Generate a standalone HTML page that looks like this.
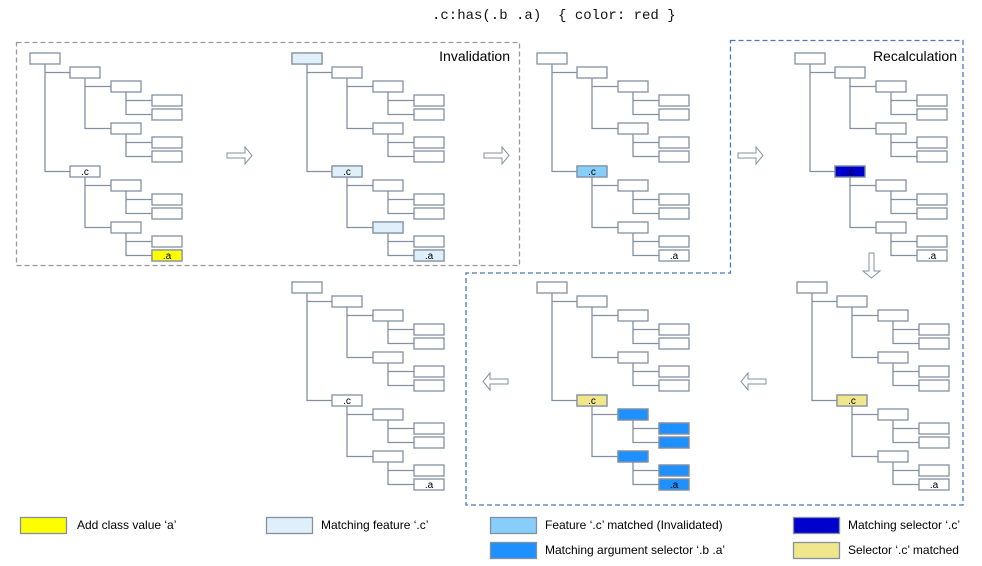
<!DOCTYPE html>
<html><head><meta charset="utf-8"><style>
body{margin:0;background:#fff}
svg{display:block}
text{font-family:"Liberation Sans",sans-serif}
</style></head><body>
<svg width="982" height="566" viewBox="0 0 982 566" xmlns="http://www.w3.org/2000/svg">
<defs>
<g id="lines" stroke="#8490a0" stroke-width="1.3" fill="none">
<path d="M15 11V118.5H40M15 19.5H40"/>
<path d="M55 25V75.5H81M55 33.5H81"/>
<path d="M96 39V61.5H122M96 47.5H122"/>
<path d="M96 81V103.5H122M96 89.5H122"/>
<path d="M55 124V174.5H81M55 132.5H81"/>
<path d="M96 138V160.5H122M96 146.5H122"/>
<path d="M96 180V202.5H122M96 188.5H122"/>
</g>
<g id="boxes" fill="#fff" stroke="#8490a0" stroke-width="1.3">
<rect x="0" y="0" width="30" height="11"/>
<rect x="40" y="14" width="30" height="11"/>
<rect x="81" y="28" width="30" height="11"/>
<rect x="122" y="42" width="30" height="11"/>
<rect x="122" y="56" width="30" height="11"/>
<rect x="81" y="70" width="30" height="11"/>
<rect x="122" y="84" width="30" height="11"/>
<rect x="122" y="98" width="30" height="11"/>
<rect x="40" y="113" width="30" height="11"/>
<rect x="81" y="127" width="30" height="11"/>
<rect x="122" y="141" width="30" height="11"/>
<rect x="122" y="155" width="30" height="11"/>
<rect x="81" y="169" width="30" height="11"/>
<rect x="122" y="183" width="30" height="11"/>
<rect x="122" y="197" width="30" height="11"/>
</g>
<g id="tree"><use href="#lines"/><use href="#boxes"/></g>
<polygon id="arr" points="0,3 18,3 18,-3 25,5.5 18,14 18,8 0,8" fill="#fff" stroke="#8490a0" stroke-width="1"/>
</defs>

<text x="432" y="19" font-size="14" fill="#111" style="font-family:'Liberation Mono',monospace;white-space:pre" xml:space="preserve">.c:has(.b .a)  { color: red }</text>

<rect x="16.5" y="42.5" width="503" height="223" fill="none" stroke="#999" stroke-width="1.3" stroke-dasharray="5,3"/>
<path d="M730.5 40.5H963V505H466V273H730.5Z" fill="none" stroke="#4a78b8" stroke-width="1.3" stroke-dasharray="5,3"/>
<text x="510" y="61" text-anchor="end" font-size="14">Invalidation</text>
<text x="957" y="61" text-anchor="end" font-size="14">Recalculation</text>

<g stroke="#8490a0" stroke-width="1.3" font-size="10" text-anchor="middle">
<g transform="translate(30,53)"><use href="#tree"/>
<rect x="122" y="197" width="30" height="11" fill="#ffff00"/>
<text x="55" y="122" stroke="none">.c</text><text x="137" y="206" stroke="none">.a</text></g>
<g transform="translate(292,53)" fill="#e0f0fb"><use href="#tree"/>
<rect x="0" y="0" width="30" height="11"/><rect x="40" y="113" width="30" height="11"/>
<rect x="81" y="169" width="30" height="11"/><rect x="122" y="197" width="30" height="11"/>
<text x="55" y="122" stroke="none" fill="#000">.c</text><text x="137" y="206" stroke="none" fill="#000">.a</text></g>
<g transform="translate(537,53)"><use href="#tree"/>
<rect x="40" y="113" width="30" height="11" fill="#87cefa"/>
<text x="55" y="122" stroke="none">.c</text><text x="137" y="206" stroke="none">.a</text></g>
<g transform="translate(795,53)"><use href="#tree"/>
<rect x="40" y="113" width="30" height="11" fill="#0000cd"/>
<text x="55" y="122" stroke="none">.c</text><text x="137" y="206" stroke="none">.a</text></g>
<g transform="translate(797,282)"><use href="#tree"/>
<rect x="40" y="113" width="30" height="11" fill="#f0e68c"/>
<text x="55" y="122" stroke="none">.c</text><text x="137" y="206" stroke="none">.a</text></g>
<g transform="translate(537,282)"><use href="#tree"/>
<rect x="40" y="113" width="30" height="11" fill="#f0e68c"/>
<g fill="#1e90ff"><rect x="81" y="127" width="30" height="11"/><rect x="122" y="141" width="30" height="11"/><rect x="122" y="155" width="30" height="11"/><rect x="81" y="169" width="30" height="11"/><rect x="122" y="183" width="30" height="11"/><rect x="122" y="197" width="30" height="11"/></g>
<text x="55" y="122" stroke="none">.c</text><text x="137" y="206" stroke="none">.a</text></g>
<g transform="translate(292,282)"><use href="#tree"/>
<text x="55" y="122" stroke="none">.c</text><text x="137" y="206" stroke="none">.a</text></g>
</g>

<use href="#arr" transform="translate(227,150)"/>
<use href="#arr" transform="translate(484,150)"/>
<use href="#arr" transform="translate(738,150)"/>
<use href="#arr" transform="translate(877,253) rotate(90)"/>
<use href="#arr" transform="translate(766,387) rotate(180)"/>
<use href="#arr" transform="translate(508,387) rotate(180)"/>

<g stroke="#8490a0" stroke-width="1.3" font-size="12">
<rect x="20.5" y="517.5" width="46" height="16" fill="#ffff00"/>
<text x="77" y="529" stroke="none">Add class value ‘a’</text>
<rect x="266.5" y="517.5" width="46" height="16" fill="#e0f0fb"/>
<text x="321" y="529" stroke="none">Matching feature ‘.c’</text>
<rect x="490.5" y="517.5" width="46" height="16" fill="#87cefa"/>
<text x="545" y="529" stroke="none">Feature ‘.c’ matched (Invalidated)</text>
<rect x="490.5" y="542.5" width="46" height="16" fill="#1e90ff"/>
<text x="545" y="554" stroke="none">Matching argument selector ‘.b .a’</text>
<rect x="793.5" y="517.5" width="46" height="16" fill="#0000cd"/>
<text x="848" y="529" stroke="none">Matching selector ‘.c’</text>
<rect x="793.5" y="542.5" width="46" height="16" fill="#f0e68c"/>
<text x="848" y="554" stroke="none">Selector ‘.c’ matched</text>
</g>
</svg>
</body></html>
